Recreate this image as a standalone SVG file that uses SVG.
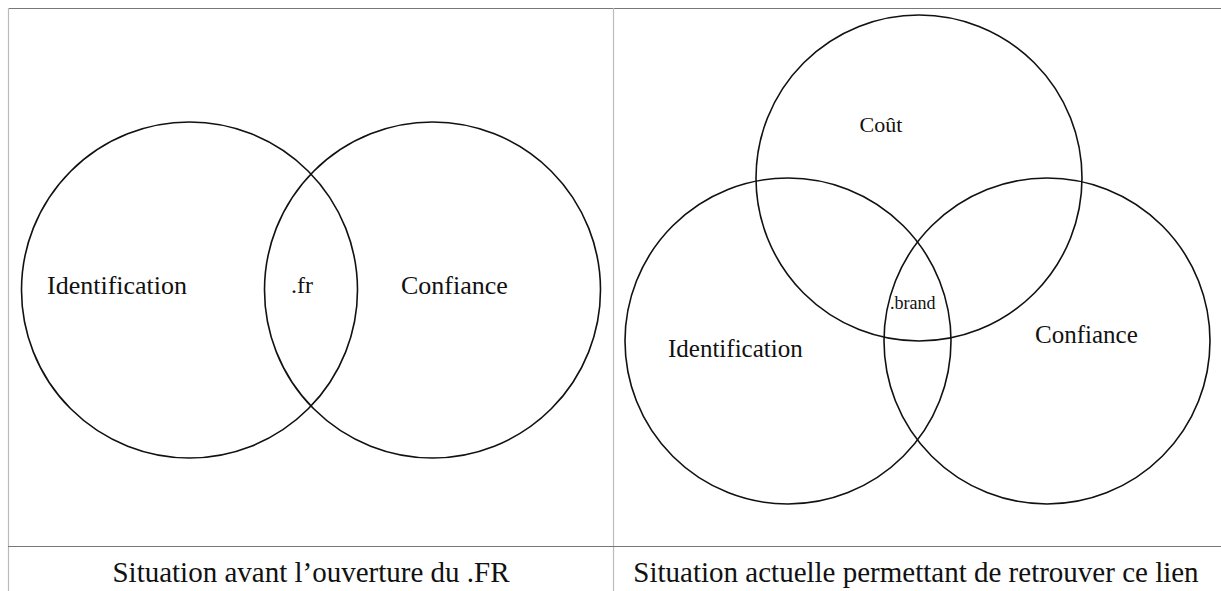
<svg xmlns="http://www.w3.org/2000/svg" width="1221" height="591" viewBox="0 0 1221 591">
<style>
.c{fill:none;stroke:#111;stroke-width:1.6}
.t{font-family:"Liberation Serif","Times New Roman",serif;fill:#111}
.g1{stroke:#777;stroke-width:1.2}
.g2{stroke:#bbb;stroke-width:1.2}
</style>
<rect width="1221" height="591" fill="#fff"/>
<g id="table">
<line class="g1" x1="8" y1="8.5" x2="1221" y2="8.5"/>
<line class="g2" x1="8.5" y1="8" x2="8.5" y2="591"/>
<line class="g2" x1="613.5" y1="8" x2="613.5" y2="591"/>
<line class="g1" x1="8" y1="546.5" x2="1221" y2="546.5"/>
</g>
<g id="left-identification"><circle class="c" cx="189.5" cy="290" r="168"/><text class="t" x="47" y="294" font-size="26">Identification</text></g>
<g id="left-confiance"><circle class="c" cx="432.5" cy="290" r="168"/><text class="t" x="401" y="294" font-size="26">Confiance</text></g>
<g id="left-fr"><text class="t" x="291" y="293" font-size="24">.fr</text></g>
<g id="right-cout"><circle class="c" cx="919" cy="178" r="163"/><text class="t" x="881" y="132" font-size="22" text-anchor="middle">Coût</text></g>
<g id="right-identification"><circle class="c" cx="788" cy="341" r="163"/><text class="t" x="668" y="357" font-size="25">Identification</text></g>
<g id="right-confiance"><circle class="c" cx="1047" cy="341" r="163"/><text class="t" x="1035" y="343" font-size="25">Confiance</text></g>
<g id="right-brand"><text class="t" x="890" y="309" font-size="18">.brand</text></g>
<g id="captions">
<text class="t" x="311" y="582" font-size="29" text-anchor="middle">Situation avant l’ouverture du .FR</text>
<text class="t" x="916" y="582" font-size="29" text-anchor="middle">Situation actuelle permettant de retrouver ce lien</text>
</g>
</svg>
